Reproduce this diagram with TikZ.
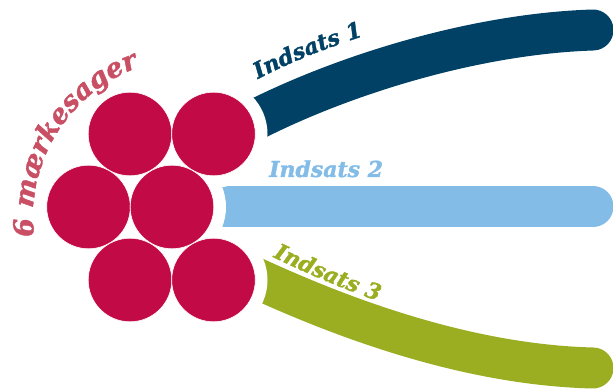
\documentclass[tikz,border=0pt]{standalone}
\usepackage{fontspec}
\setmainfont{DejaVu Serif}
\newfontfamily\heavyserif{DejaVu Serif}[FakeBold=1.6]
\usetikzlibrary{decorations.text}

\definecolor{causered}{HTML}{C10A46}
\definecolor{causetext}{HTML}{C94F65}
\definecolor{navyband}{HTML}{004165}
\definecolor{skyband}{HTML}{83BCE7}
\definecolor{oliveband}{HTML}{9BAE22}

\newcommand\labelfont{\heavyserif\bfseries\itshape\fontsize{22}{22}\selectfont}

\tikzset{
    cause/.style={circle, fill=causered, draw=white, line width=0.6pt, minimum size=83.6pt, inner sep=0pt},
    band/.style={line width=41pt, line cap=round},
    bandlabel/.style={font=\labelfont, inner sep=0pt}
}

\begin{document}
\begin{tikzpicture}[x=1pt,y=1pt]
                \useasboundingbox (0,0) rectangle (613,390);

                %%bands
                \draw[band, navyband]
                    (247,266) .. controls (335,312) and (470,356) .. (593,360);
                \draw[band, skyband]
                    (195,183.5) -- (593,183.5);
                \draw[band, oliveband]
                    (245,117) .. controls (345,70) and (470,25) .. (593,22);

                %%gaps round the circles
                \fill[white] (213.5,256) circle (54);
                \fill[white] (172,183) circle (54);
                \fill[white] (213.5,110) circle (54);

                %%circles
                \node[cause] (c1) at (130,256) {};
                \node[cause] (c2) at (213.5,256) {};
                \node[cause] (c3) at (88.5,183) {};
                \node[cause] (c4) at (172,183) {};
                \node[cause] (c5) at (130,110) {};
                \node[cause] (c6) at (213.5,110) {};

                %%labels
                \path[decorate, decoration={text along path, text color=causetext,
                        text={|\heavyserif\bfseries\itshape\fontsize{27}{27}\selectfont|6 mærkesager}}]
                    (192,173) ++(187:159) arc[start angle=187, end angle=95, radius=159];
                \path[decorate, decoration={text along path, text color=navyband,
                        text={|\labelfont|Indsats 1}}]
                    (258,311) .. controls (335,352) and (470,391) .. (592,395);
                \node[bandlabel, text=skyband, anchor=base west] (lab2) at (269,213) {Indsats 2};
                \path[decorate, decoration={text along path, text color=oliveband,
                        text={|\labelfont|Indsats 3}}]
                    (273,133) .. controls (355,93) and (471,50) .. (594,47);
\end{tikzpicture}
\end{document}
